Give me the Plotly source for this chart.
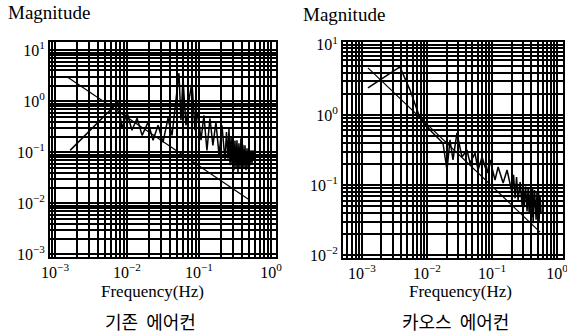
import plotly.graph_objects as go

# ---------------- data ----------------
# left panel (기존 에어컨)
left_ref_freq = [0.0015, 0.51]
left_ref_mag = [2.95, 0.0115]

left_freq = [0.00162, 0.0075, 0.00852, 0.0100, 0.0117, 0.0138, 0.0162, 0.0196, 0.0230,
             0.0270, 0.0316, 0.0371, 0.0422, 0.0480, 0.0527, 0.0562, 0.0599, 0.0659,
             0.0726, 0.0800, 0.0879, 0.0968, 0.1066, 0.117, 0.129, 0.142, 0.156, 0.172,
             0.190, 0.2085,
             0.230, 0.241, 0.253, 0.261, 0.270, 0.279, 0.287, 0.296, 0.306, 0.316,
             0.327, 0.337, 0.348, 0.359, 0.371, 0.383, 0.395, 0.408, 0.422, 0.436,
             0.450, 0.465, 0.480, 0.495, 0.511, 0.528, 0.545, 0.563, 0.581]
left_mag = [0.109, 0.955, 0.296, 0.608, 0.270, 0.464, 0.215, 0.387, 0.172,
            0.338, 0.157, 0.464, 0.215, 1.31, 3.54, 0.424, 2.82, 0.338,
            1.05, 2.36, 0.270, 0.608, 0.172, 0.531, 0.109, 0.464, 0.137, 0.387,
            0.0873, 0.338,
            0.0697, 0.25, 0.075, 0.296, 0.0556, 0.20, 0.06, 0.215, 0.0444, 0.17,
            0.05, 0.172, 0.0406, 0.15, 0.048, 0.188, 0.0444, 0.14, 0.05, 0.137,
            0.0444, 0.12, 0.05, 0.109, 0.0556, 0.11, 0.06, 0.109, 0.0697]

# right panel (카오스 에어컨)
right_ref_freq = [0.00124, 0.547]
right_ref_mag = [4.69, 0.0213]

right_freq = [0.00124, 0.00384, 0.00548, 0.0078, 0.0119, 0.0176, 0.0203, 0.0226, 0.0251,
              0.0289, 0.0345, 0.0412, 0.0459, 0.0548, 0.0609, 0.0702, 0.0838, 0.0931,
              0.111, 0.124, 0.148, 0.170,
              0.203, 0.214, 0.226, 0.238, 0.251, 0.270, 0.290, 0.300, 0.311, 0.328,
              0.345, 0.358, 0.371, 0.391, 0.412, 0.420, 0.427, 0.450, 0.475, 0.490,
              0.510, 0.520, 0.528, 0.547, 0.567]
right_mag = [2.43, 4.85, 2.28, 0.906, 0.571, 0.398, 0.164, 0.44, 0.228,
             0.553, 0.251, 0.316, 0.206, 0.286, 0.164, 0.251, 0.148, 0.228,
             0.118, 0.181, 0.107, 0.164,
             0.0769, 0.14, 0.065, 0.130, 0.0611, 0.11, 0.05, 0.107, 0.0485, 0.095,
             0.042, 0.0936, 0.0398, 0.0906, 0.035, 0.09, 0.0286, 0.0849, 0.032, 0.08,
             0.0349, 0.0769, 0.03, 0.07, 0.0398]

left_y_ticks = [1e-3, 1e-2, 1e-1, 1, 10]
left_y_text = ["10<sup>−3</sup>", "10<sup>−2</sup>", "10<sup>−1</sup>", "10<sup>0</sup>", "10<sup>1</sup>"]
right_y_ticks = [1e-2, 1e-1, 1, 10]
right_y_text = ["10<sup>−2</sup>", "10<sup>−1</sup>", "10<sup>0</sup>", "10<sup>1</sup>"]
x_ticks = [1e-3, 1e-2, 1e-1, 1]
x_text = ["10<sup>−3</sup>", "10<sup>−2</sup>", "10<sup>−1</sup>", "10<sup>0</sup>"]
titles = ["기존\u00a0\u00a0에어컨", "카오스\u00a0\u00a0에어컨"]

# ---------------- figure ----------------
SERIF = "Liberation Serif"
KR = "Noto Sans CJK KR"

def minor_vals(lo, hi):
    vals = []
    for e in range(lo, hi):
        for k in range(2, 10):
            vals.append(k * 10.0 ** e)
    return vals

fig = go.Figure()
fig.add_trace(go.Scatter(x=left_ref_freq, y=left_ref_mag, mode="lines",
                         line=dict(color="black", width=1.2), xaxis="x", yaxis="y", showlegend=False))
fig.add_trace(go.Scatter(x=left_freq, y=left_mag, mode="lines",
                         line=dict(color="black", width=1.5), xaxis="x", yaxis="y", showlegend=False))
fig.add_trace(go.Scatter(x=right_ref_freq, y=right_ref_mag, mode="lines",
                         line=dict(color="black", width=1.2), xaxis="x2", yaxis="y2", showlegend=False))
fig.add_trace(go.Scatter(x=right_freq, y=right_mag, mode="lines",
                         line=dict(color="black", width=1.5), xaxis="x2", yaxis="y2", showlegend=False))

W, H = 567, 336
def dx(p):
    return p / W
def dy(p):
    return 1 - p / H

ax_common = dict(type="log", showline=True, mirror=True, linecolor="black", linewidth=2,
                 showgrid=True, gridcolor="black", gridwidth=1.8, ticks="", zeroline=False,
                 automargin=False, ticklabeloverflow="allow",
                 tickfont=dict(family=SERIF, size=16, color="black"))
minor_style = dict(showgrid=True, gridcolor="black", gridwidth=1.5, ticks="")

fig.update_layout(
    width=W, height=H, margin=dict(l=0, r=0, t=0, b=0),
    paper_bgcolor="white", plot_bgcolor="white",
    xaxis=dict(**ax_common, domain=[dx(50), dx(276)], range=[-3.07, 0.07], anchor="y",
               tickvals=x_ticks, ticktext=x_text,
               minor=dict(tickvals=minor_vals(-4, 1), **minor_style)),
    yaxis=dict(**ax_common, domain=[dy(257), dy(42)], range=[-3.05, 1.16], anchor="x",
               tickvals=left_y_ticks, ticktext=left_y_text,
               minor=dict(tickvals=minor_vals(-4, 2), **minor_style)),
    xaxis2=dict(**ax_common, domain=[dx(343), dx(563)], range=[-3.29, 0.09], anchor="y2",
                tickvals=x_ticks, ticktext=x_text,
                minor=dict(tickvals=minor_vals(-4, 1), **minor_style)),
    yaxis2=dict(**ax_common, domain=[dy(258), dy(42)], range=[-2.04, 1.04], anchor="x2",
                tickvals=right_y_ticks, ticktext=right_y_text,
                minor=dict(tickvals=minor_vals(-3, 2), **minor_style)),
)

ann = []
for xp, yp in [(6, 13), (301, 15)]:
    ann.append(dict(text="Magnitude", x=dx(xp), y=dy(yp), xref="paper", yref="paper",
                    xanchor="left", yanchor="middle", showarrow=False,
                    font=dict(family=SERIF, size=19, color="black")))
for xp in [152, 460]:
    ann.append(dict(text="Frequency(Hz)", x=dx(xp), y=dy(291), xref="paper", yref="paper",
                    xanchor="center", yanchor="middle", showarrow=False,
                    font=dict(family=SERIF, size=17, color="black")))
for xp, t in zip([150, 455], titles):
    ann.append(dict(text=t, x=dx(xp), y=dy(321), xref="paper", yref="paper",
                    xanchor="center", yanchor="middle", showarrow=False,
                    font=dict(family=KR, size=18, color="black")))
fig.update_layout(annotations=ann)

fig.write_html("out.html", config={"displayModeBar": False},
               post_script="document.body.style.margin='0';")
